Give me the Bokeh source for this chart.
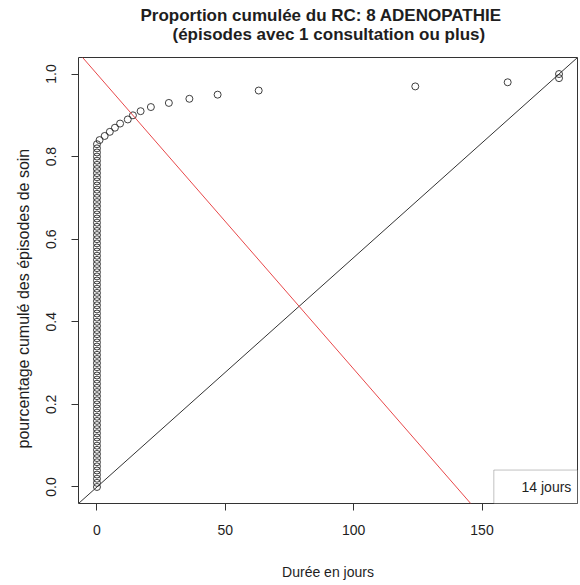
import numpy as np
from bokeh.plotting import figure
from bokeh.models import (Range1d, FixedTicker, NumeralTickFormatter, Slope,
                          BoxAnnotation, Label, Title, ColumnDataSource)
from bokeh.embed import file_html
from bokeh.resources import INLINE

# Episode durations (days) and how many episodes have each duration
dur_values = [0, 1, 3, 5, 7, 9, 12, 14, 17, 21, 28, 36, 47, 63, 124, 160, 180]
dur_counts = [84, 1, 1, 1, 1, 1, 1, 1, 1, 1, 1, 1, 1, 1, 1, 1, 2]

x_ticks = [0, 50, 100, 150]
y_ticks = [0.0, 0.2, 0.4, 0.6, 0.8, 1.0]

title_line1 = "Proportion cumulée du RC: 8 ADENOPATHIE"
title_line2 = "(épisodes avec 1 consultation ou plus)"
x_label = "Durée en jours"
y_label = "pourcentage cumulé des épisodes de soin"
legend_text = "14 jours"

# reference lines: diagonal to the longest duration, and a decreasing line
diag_days = 180
red_days = 140

# cumulative proportion of episodes, sorted by duration
durations = np.repeat(dur_values, dur_counts)
n = len(durations)
cum_prop = np.arange(n) / (n - 1)
src = ColumnDataSource(dict(x=durations, y=cum_prop))

FONT = "Liberation Sans"
INK = "#1e1e1e"

xmin, xmax = 0, max(dur_values)
pad = 0.04 * (xmax - xmin)
p = figure(width=580, height=585, frame_width=499, frame_height=446,
           min_border_left=78, min_border_right=3, min_border_top=57,
           min_border_bottom=82, toolbar_location=None, output_backend="svg",
           x_range=Range1d(xmin - pad, xmax + pad), y_range=Range1d(-0.04, 1.04),
           title=title_line1)
p.grid.visible = False
p.outline_line_color = "#333333"
p.outline_line_width = 1
p.background_fill_color = "white"
p.border_fill_color = "white"

# two-line bold title
p.title.align = "left"
p.title.offset = 62
p.title.standoff = -32
p.title.text_font = FONT
p.title.text_font_size = "17px"
p.title.text_font_style = "bold"
p.title.text_color = INK
p.add_layout(Title(text=title_line2, align="left", offset=94, standoff=28,
                   text_font=FONT, text_font_size="17px",
                   text_font_style="bold", text_color=INK), "above")

for ax in (p.xaxis[0], p.yaxis[0]):
    ax.axis_line_color = None
    ax.major_tick_out = 7
    ax.major_tick_in = 0
    ax.minor_tick_line_color = None
    ax.major_tick_line_color = "#333333"
    ax.major_label_text_font = FONT
    ax.major_label_text_font_size = "14px"
    ax.major_label_text_color = INK
    ax.axis_label_text_font = FONT
    ax.axis_label_text_font_size = "14px"
    ax.axis_label_text_font_style = "normal"
    ax.axis_label_text_color = INK

p.xaxis.ticker = FixedTicker(ticks=x_ticks)
p.xaxis.formatter = NumeralTickFormatter(format="0")
p.xaxis.axis_label = x_label
p.xaxis.major_label_standoff = 14
p.xaxis.axis_label_standoff = 26

p.yaxis.ticker = FixedTicker(ticks=y_ticks)
p.yaxis.formatter = NumeralTickFormatter(format="0.0")
p.yaxis.major_label_orientation = "vertical"
p.yaxis.major_label_standoff = 15

# y-axis caption, set in the left margin beside the tick labels
p.add_layout(Title(text=y_label, align="left", offset=55, standoff=23,
                   text_font=FONT, text_font_size="16px",
                   text_font_style="normal", text_color=INK), "left")

# reference lines
p.add_layout(Slope(gradient=1 / diag_days, y_intercept=0,
                   line_color="#333333", line_width=1))
p.add_layout(Slope(gradient=-1 / red_days, y_intercept=1,
                   line_color="#e8484a", line_width=1))

# cumulative proportion points
p.scatter("x", "y", source=src, marker="circle", size=7, fill_color=None,
          line_color="#2a2a2a", line_width=0.9)

# legend box in the bottom-right corner
p.add_layout(BoxAnnotation(left=154.6, top=0.041, fill_color="white",
                           fill_alpha=1, line_color="#333333", line_width=1,
                           level="overlay"))
p.add_layout(Label(x=184.8, y=0.0, text=legend_text, text_align="right",
                   text_baseline="middle", text_font=FONT,
                   text_font_size="14px", text_color=INK, level="overlay"))

open("out.html", "w").write(file_html(p, INLINE))
